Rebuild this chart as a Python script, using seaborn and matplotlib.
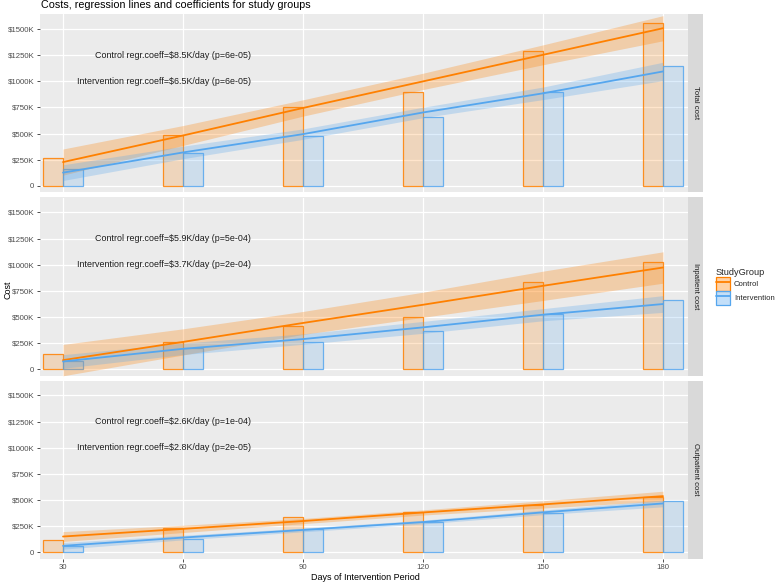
import matplotlib
matplotlib.use("Agg")
import numpy as np
import pandas as pd
import matplotlib.pyplot as plt
import seaborn as sns
from matplotlib.patches import Patch
from matplotlib.lines import Line2D
from matplotlib.colors import to_rgba

# --- data (in $K) ---
days = [30, 60, 90, 120, 150, 180]
groups = ["Control", "Intervention"]
panels = ["Total cost", "Inpatient cost", "Outpatient cost"]

# mean cost bars
total_control = [270, 489, 752, 895, 1285, 1555]
total_interv = [162, 318, 473, 660, 901, 1145]
inpat_control = [143, 263, 419, 501, 834, 1031]
inpat_interv = [79, 204, 258, 365, 533, 663]
outpat_control = [123, 234, 335, 389, 453, 525]
outpat_interv = [63, 127, 225, 288, 377, 487]

# regression fit lines
total_control_fit = [228, 482, 745, 999, 1253, 1507]
total_interv_fit = [127, 320, 495, 702, 885, 1094]
inpat_control_fit = [89, 263, 444, 618, 799, 974]
inpat_interv_fit = [76, 197, 290, 402, 523, 625]
outpat_control_fit = [152, 225, 300, 382, 459, 538]
outpat_interv_fit = [63, 142, 215, 290, 383, 468]

# half width of confidence bands
total_control_ci = [125, 95, 78, 78, 95, 120]
total_interv_ci = [75, 60, 50, 50, 60, 88]
inpat_control_ci = [150, 125, 110, 120, 140, 150]
inpat_interv_ci = [65, 55, 50, 57, 58, 80]
outpat_control_ci = [47, 35, 25, 25, 35, 47]
outpat_interv_ci = [32, 22, 18, 18, 22, 32]

coef_labels = {
    "Total cost": ["Control regr.coeff=\\$8.5K/day (p=6e-05)",
                   "Intervention regr.coeff=\\$6.5K/day (p=6e-05)"],
    "Inpatient cost": ["Control regr.coeff=\\$5.9K/day (p=5e-04)",
                       "Intervention regr.coeff=\\$3.7K/day (p=2e-04)"],
    "Outpatient cost": ["Control regr.coeff=\\$2.6K/day (p=1e-04)",
                        "Intervention regr.coeff=\\$2.8K/day (p=2e-05)"],
}

series = {
    ("Total cost", "Control"): (total_control, total_control_fit, total_control_ci),
    ("Total cost", "Intervention"): (total_interv, total_interv_fit, total_interv_ci),
    ("Inpatient cost", "Control"): (inpat_control, inpat_control_fit, inpat_control_ci),
    ("Inpatient cost", "Intervention"): (inpat_interv, inpat_interv_fit, inpat_interv_ci),
    ("Outpatient cost", "Control"): (outpat_control, outpat_control_fit, outpat_control_ci),
    ("Outpatient cost", "Intervention"): (outpat_interv, outpat_interv_fit, outpat_interv_ci),
}

rows = []
for (panel, grp), (cost, fit, ci) in series.items():
    for d, c, f, w in zip(days, cost, fit, ci):
        rows.append(dict(Panel=panel, StudyGroup=grp, Days=d, Cost=c,
                         Fit=f, Lower=f - w, Upper=f + w))
df = pd.DataFrame(rows)

palette = {"Control": "#FF8000", "Intervention": "#55A6EE"}
bar_offset = {"Control": -2.5, "Intervention": 2.5}

sns.set_theme(style="darkgrid", rc={"axes.facecolor": "#EBEBEB",
                                    "grid.color": "white",
                                    "grid.linewidth": 0.9})
plt.rcParams["font.family"] = ["Liberation Sans", "DejaVu Sans"]

W, H = 778, 584
fig = plt.figure(figsize=(W / 100, H / 100), dpi=100)


def px_axes(left, top, width, height):
    return fig.add_axes([left / W, 1 - (top + height) / H, width / W, height / H])


panel_tops = [14, 197.5, 380.5]
ph = 178
yticks = [0, 250, 500, 750, 1000, 1250, 1500]
ylabels = ["0"] + [f"\\${v}K" for v in yticks[1:]]

for i, panel in enumerate(panels):
    ax = px_axes(40, panel_tops[i], 648, ph)
    sub = df[df["Panel"] == panel]
    for grp in groups:
        g = sub[sub["StudyGroup"] == grp]
        col = palette[grp]
        ax.bar(g["Days"] + bar_offset[grp], g["Cost"], width=5,
               facecolor=to_rgba(col, 0.2), edgecolor=to_rgba(col, 0.85),
               linewidth=0.9, zorder=2)
        ax.fill_between(g["Days"], g["Lower"], g["Upper"],
                        color=col, alpha=0.28, linewidth=0, zorder=3)
    sns.lineplot(data=sub, x="Days", y="Fit", hue="StudyGroup",
                 palette=palette, linewidth=1.3, legend=False, ax=ax, zorder=4)

    ax.text(77, 1250, coef_labels[panel][0], ha="right", va="center",
            fontsize=6.4, color="#1A1A1A")
    ax.text(77, 1000, coef_labels[panel][1], ha="right", va="center",
            fontsize=6.4, color="#1A1A1A")

    ax.set_xlim(24.25, 186.25)
    ax.set_ylim(-58, 1643)
    ax.set_xticks(days)
    ax.set_yticks(yticks)
    ax.set_yticklabels(ylabels)
    ax.set_xlabel("")
    ax.set_ylabel("")
    for s in ax.spines.values():
        s.set_visible(False)
    ax.tick_params(axis="y", left=True, length=2.5, width=0.6, color="#333333",
                   labelsize=5.6, labelcolor="#4D4D4D", pad=1.5)
    if i < 2:
        ax.tick_params(axis="x", bottom=False, labelbottom=False)
    else:
        ax.set_xticklabels([str(d) for d in days])
        ax.tick_params(axis="x", bottom=True, length=2.5, width=0.6,
                       color="#333333", labelsize=5.6, labelcolor="#4D4D4D", pad=1.5)

    # facet strip on the right
    sax = px_axes(688, panel_tops[i], 15, ph)
    sax.set_facecolor("#D9D9D9")
    sax.set_xticks([])
    sax.set_yticks([])
    sax.grid(False)
    for s in sax.spines.values():
        s.set_visible(False)
    sax.text(0.5, 0.5, panel, rotation=270, ha="center", va="center",
             fontsize=5.6, color="#1A1A1A", transform=sax.transAxes)

fig.text(41 / W, 1 - 5 / H, "Costs, regression lines and coefficients for study groups",
         ha="left", va="center", fontsize=7.75, color="black")
fig.text(8 / W, 1 - 290 / H, "Cost", rotation=90, ha="center", va="center",
         fontsize=6.5, color="black")
fig.text(365 / W, 1 - 578 / H, "Days of Intervention Period", ha="center",
         va="center", fontsize=6.5, color="black")

handles = [(Patch(facecolor=to_rgba(palette[g], 0.35), edgecolor=palette[g], linewidth=0.9),
            Line2D([], [], color=palette[g], linewidth=1.3)) for g in groups]
leg = fig.legend(handles, groups, loc="upper left", bbox_to_anchor=(716 / W, 1 - 268 / H),
                 title="StudyGroup", frameon=False, fontsize=5.6, title_fontsize=6.6,
                 handlelength=1.8, handleheight=2.4, handletextpad=0.5,
                 labelspacing=0.0, borderaxespad=0, borderpad=0, alignment="left")

fig.savefig("out.png", dpi=100)
